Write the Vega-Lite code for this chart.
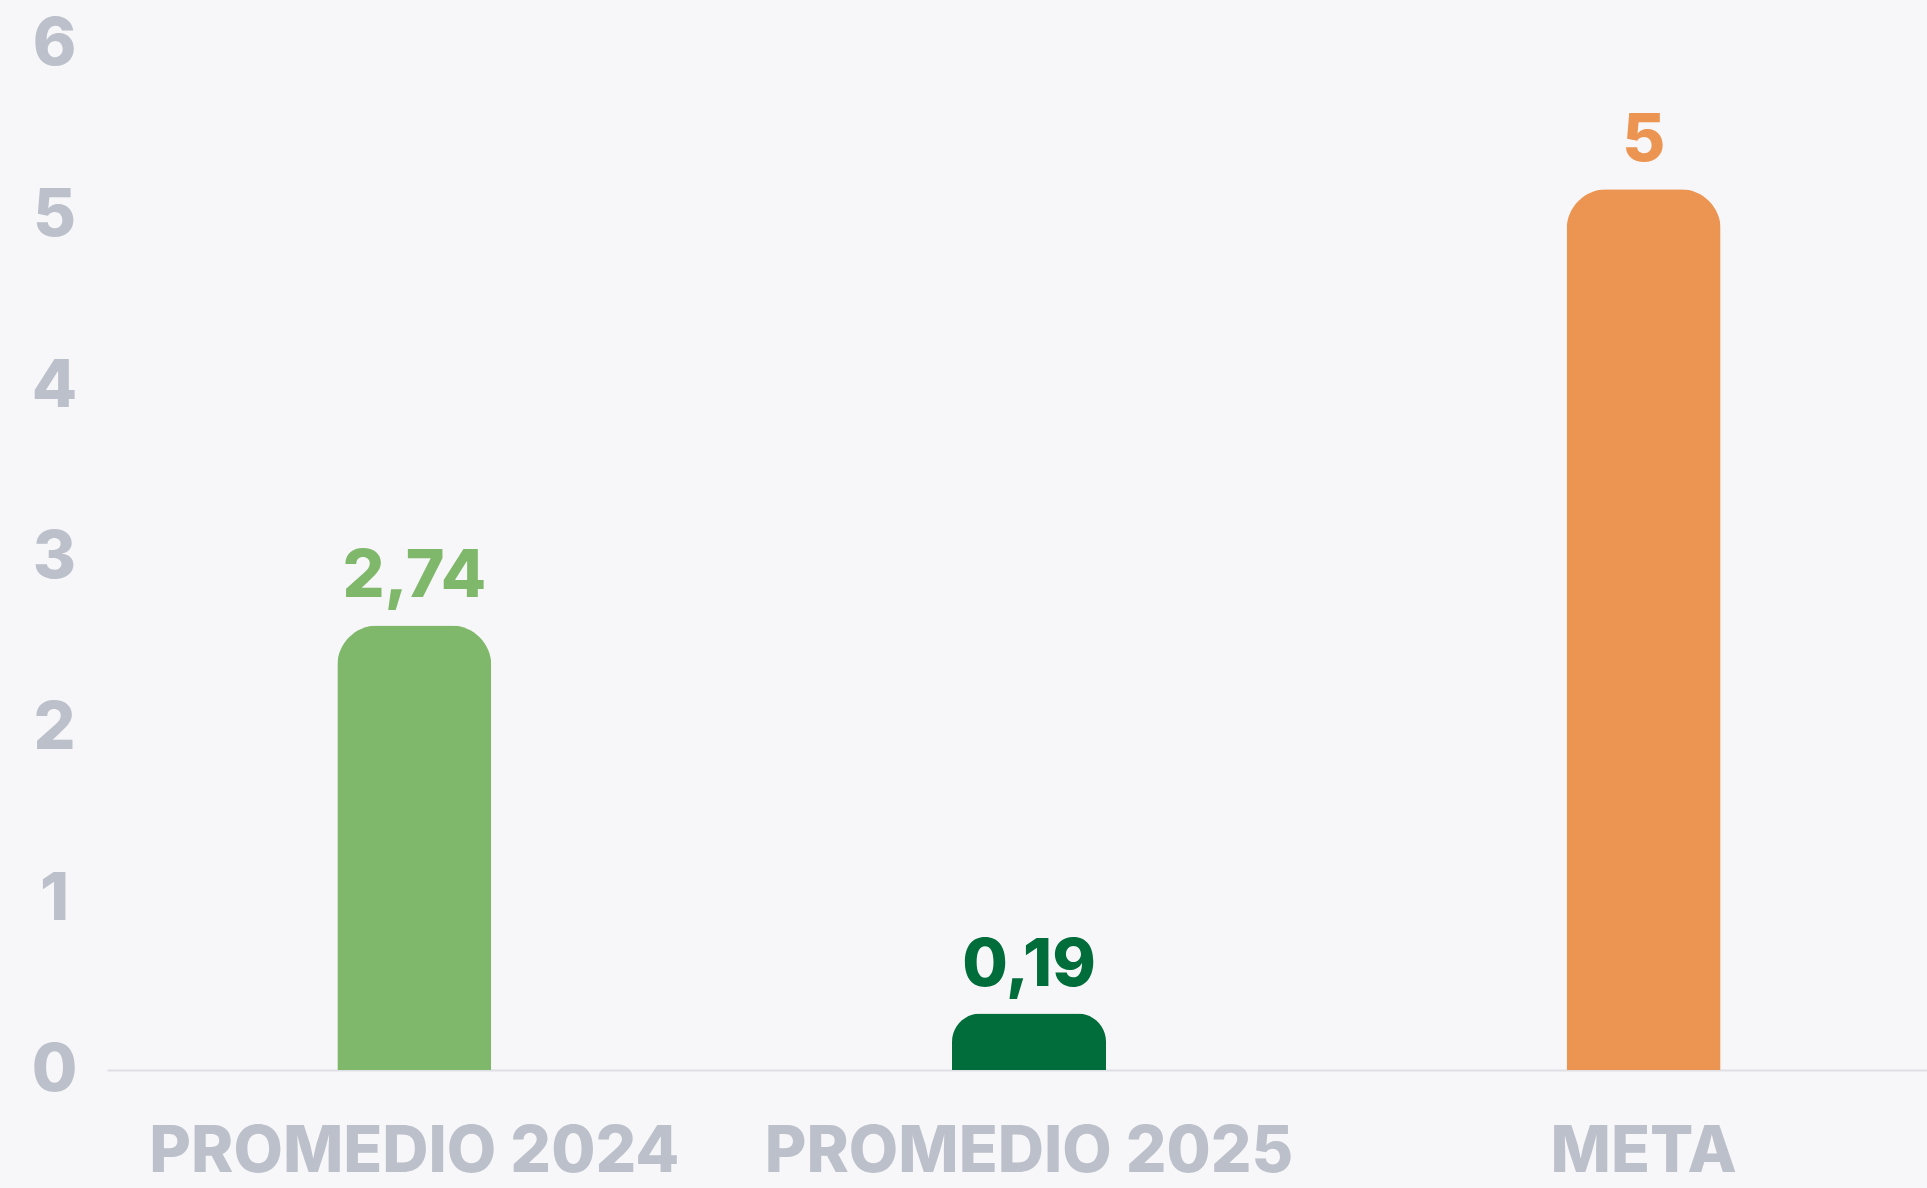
{
  "$schema": "https://vega.github.io/schema/vega-lite/v6.json",
  "width": 1820,
  "height": 1026,
  "autosize": {"type": "none"},
  "padding": {"left": 107, "top": 44, "right": 0, "bottom": 118},
  "background": "#f7f7f9",
  "config": {"view": {"stroke": null}, "font": "Inter"},
  "data": {
    "values": [
      {"categoria": "PROMEDIO 2024", "altura": 2.6, "etiqueta": "2,74", "color": "#7fb86b"},
      {"categoria": "PROMEDIO 2025", "altura": 0.33, "etiqueta": "0,19", "color": "#006d3a"},
      {"categoria": "META", "altura": 5.15, "etiqueta": "5", "color": "#ec9552"}
    ]
  },
  "encoding": {
    "x": {
      "field": "categoria",
      "type": "nominal",
      "sort": null,
      "scale": {"paddingInner": 0, "paddingOuter": 0, "range": [0, 1844]},
      "axis": {
        "title": null,
        "labelAngle": 0,
        "labelFont": "Inter",
        "labelFontSize": 64,
        "labelFontWeight": 800,
        "labelColor": "#bcc0ca",
        "labelPadding": 50,
        "labelLimit": 0,
        "ticks": false,
        "domainColor": "#dfe0e5",
        "domainWidth": 2,
        "grid": false
      }
    },
    "y": {
      "field": "altura",
      "type": "quantitative",
      "scale": {"domain": [0, 6], "nice": false},
      "axis": {
        "title": null,
        "values": [0, 1, 2, 3, 4, 5, 6],
        "labelFont": "Inter",
        "labelFontSize": 66,
        "labelFontWeight": 800,
        "labelColor": "#bcc0ca",
        "labelAlign": "center",
        "labelPadding": 53,
        "ticks": false,
        "domain": false,
        "grid": false
      }
    }
  },
  "layer": [
    {
      "mark": {"type": "bar", "width": 154, "cornerRadiusTopLeft": 40, "cornerRadiusTopRight": 40},
      "encoding": {
        "color": {"field": "color", "type": "nominal", "scale": null, "legend": null}
      }
    },
    {
      "mark": {"type": "text", "baseline": "alphabetic", "dy": -28, "fontSize": 66, "fontWeight": 800, "font": "Inter"},
      "encoding": {
        "text": {"field": "etiqueta"},
        "color": {"field": "color", "type": "nominal", "scale": null, "legend": null}
      }
    }
  ]
}
